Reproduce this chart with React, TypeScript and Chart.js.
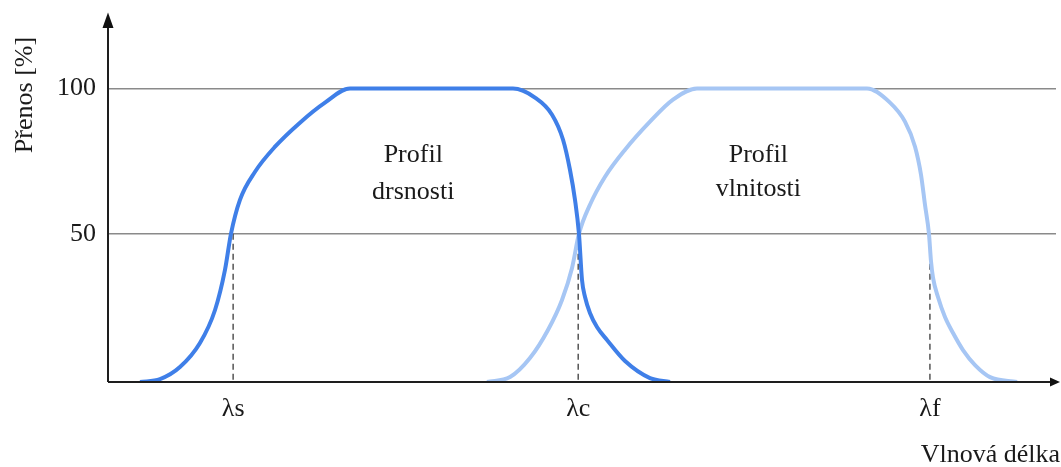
import React, { useEffect, useRef } from "react";
import { Chart, registerables } from "chart.js";

Chart.register(...registerables);

// Cut-off wavelengths (relative position on the wavelength axis, 0–100)
const CUTOFF_LABELS = ["λs", "λc", "λf"];
const CUTOFF_X = [13.2, 49.6, 86.7];

// Roughness profile transmission curve (Profil drsnosti)
const ROUGH_X = [3.38, 5.49, 7.59, 9.7, 11.29, 12.34, 12.97, 13.92, 15.51, 17.62, 20.25, 22.89, 25.53,
  42.72, 45.04, 46.84, 48.0, 48.73, 49.26, 49.68, 50.0, 50.32, 50.84, 51.58, 52.64, 54.54, 57.17, 59.28];
const ROUGH_Y = [-1, 0, 4.14, 12.41, 23.79, 37.59, 50, 61.72, 71.38, 80, 88.28, 95.17, 100,
  100, 96.9, 91.03, 82.41, 72.07, 61.72, 50, 34.14, 28.28, 22.76, 17.93, 13.45, 6.21, 0.34, -1];

// Waviness profile transmission curve (Profil vlnitosti)
const WAVE_X = [39.98, 42.41, 44.51, 46.41, 47.89, 48.95, 49.68, 50.84, 52.43, 54.54, 57.17, 59.6, 62.13,
  80.06, 82.49, 84.07, 85.13, 85.76, 86.18, 86.6, 86.81, 87.03, 87.55, 88.29, 89.14, 90.19, 91.46, 93.04, 95.89];
const WAVE_Y = [-1, 0.69, 7.24, 16.9, 27.24, 38.28, 50, 60, 69.66, 78.97, 88.62, 96.21, 100,
  100, 95.17, 88.62, 80, 70.34, 60, 50, 40.69, 34.83, 28.28, 21.38, 15.86, 10, 4.83, 0.69, -1];

const Y_TICKS = [50, 100];
const Y_TITLE = "Přenos [%]";
const X_TITLE = "Vlnová délka";
const NOTES = [
  { lines: ["Profil", "drsnosti"], x: 32.2, y: [77.2, 64.5] },
  { lines: ["Profil", "vlnitosti"], x: 68.6, y: [77.2, 65.5] },
];

const FONT = "'Liberation Serif', 'Times New Roman', serif";
const DARK = "#3f7fe8";
const LIGHT = "#a6c6f4";

export default function App() {
  const ref = useRef<HTMLCanvasElement | null>(null);

  useEffect(() => {
    if (!ref.current) return;

    const decor = {
      id: "decor",
      afterDraw(chart: any) {
        const ctx = chart.ctx;
        const { left, right, top, bottom } = chart.chartArea;
        const xs = chart.scales.x;
        const ys = chart.scales.y;
        ctx.save();
        // axis lines with arrows
        ctx.strokeStyle = "#1e1e1e";
        ctx.fillStyle = "#111";
        ctx.lineWidth = 2;
        ctx.beginPath();
        ctx.moveTo(left, bottom);
        ctx.lineTo(right, bottom);
        ctx.moveTo(left, bottom);
        ctx.lineTo(left, top);
        ctx.stroke();
        ctx.beginPath();
        ctx.moveTo(left, top - 3.5);
        ctx.lineTo(left - 5.5, top + 12);
        ctx.lineTo(left + 5.5, top + 12);
        ctx.closePath();
        ctx.fill();
        ctx.beginPath();
        ctx.moveTo(right + 4, bottom);
        ctx.lineTo(right - 6, bottom - 4.5);
        ctx.lineTo(right - 6, bottom + 4.5);
        ctx.closePath();
        ctx.fill();
        // titles
        ctx.fillStyle = "#1a1a1a";
        ctx.font = `26px ${FONT}`;
        ctx.textBaseline = "middle";
        ctx.save();
        ctx.translate(25, 95);
        ctx.rotate(-Math.PI / 2);
        ctx.textAlign = "center";
        ctx.fillText(Y_TITLE, 0, 0);
        ctx.restore();
        ctx.textAlign = "right";
        ctx.fillText(X_TITLE, right + 4, 455);
        // annotations
        ctx.textAlign = "center";
        NOTES.forEach((n) => {
          n.lines.forEach((t, i) => {
            ctx.fillText(t, xs.getPixelForValue(n.x), ys.getPixelForValue(n.y[i]));
          });
        });
        ctx.restore();
      },
    };

    const dashed = CUTOFF_X.map((x) => ({
      data: [
        { x, y: 50 },
        { x, y: -1 },
      ],
      borderColor: "#555",
      borderWidth: 1.5,
      borderDash: [6, 4],
      pointRadius: 0,
      order: 3,
    }));

    const chart = new Chart(ref.current, {
      type: "line",
      data: {
        datasets: [
          {
            label: "Profil vlnitosti",
            data: WAVE_X.map((x, i) => ({ x, y: WAVE_Y[i] })),
            borderColor: LIGHT,
            borderWidth: 4,
            pointRadius: 0,
            cubicInterpolationMode: "monotone",
            order: 2,
          },
          {
            label: "Profil drsnosti",
            data: ROUGH_X.map((x, i) => ({ x, y: ROUGH_Y[i] })),
            borderColor: DARK,
            borderWidth: 4,
            pointRadius: 0,
            cubicInterpolationMode: "monotone",
            order: 1,
          },
          ...(dashed as any[]),
        ],
      },
      options: {
        animation: false,
        responsive: true,
        maintainAspectRatio: false,
        layout: { padding: { left: 0, right: 5, top: 16, bottom: 0 } },
        plugins: { legend: { display: false }, tooltip: { enabled: false } },
        scales: {
          x: {
            type: "linear",
            min: 0,
            max: 100,
            grid: { display: false, drawTicks: false },
            border: { display: false },
            afterBuildTicks: (axis: any) => {
              axis.ticks = CUTOFF_X.map((v) => ({ value: v }));
            },
            afterFit: (scale: any) => {
              scale.height = 85;
              scale.paddingLeft = 0;
              scale.paddingRight = 0;
            },
            ticks: {
              padding: 12,
              color: "#1a1a1a",
              font: { family: FONT, size: 26 },
              maxRotation: 0,
              autoSkip: false,
              callback: (_v: any, i: number) => CUTOFF_LABELS[i],
            },
          },
          y: {
            type: "linear",
            min: -1,
            max: 125,
            grid: { color: "#8a8a8a", lineWidth: 1.5, drawTicks: false },
            border: { display: false },
            afterBuildTicks: (axis: any) => {
              axis.ticks = Y_TICKS.map((v) => ({ value: v }));
            },
            afterFit: (scale: any) => {
              scale.width = 108;
              scale.paddingTop = 0;
              scale.paddingBottom = 0;
            },
            ticks: {
              padding: 12,
              color: "#1a1a1a",
              font: { family: FONT, size: 26 },
            },
          },
        },
      },
      plugins: [decor],
    });

    return () => chart.destroy();
  }, []);

  return (
    <div style={{ position: "absolute", left: 0, top: 0, width: 1061, height: 467, background: "#fff" }}>
      <canvas ref={ref} />
    </div>
  );
}
